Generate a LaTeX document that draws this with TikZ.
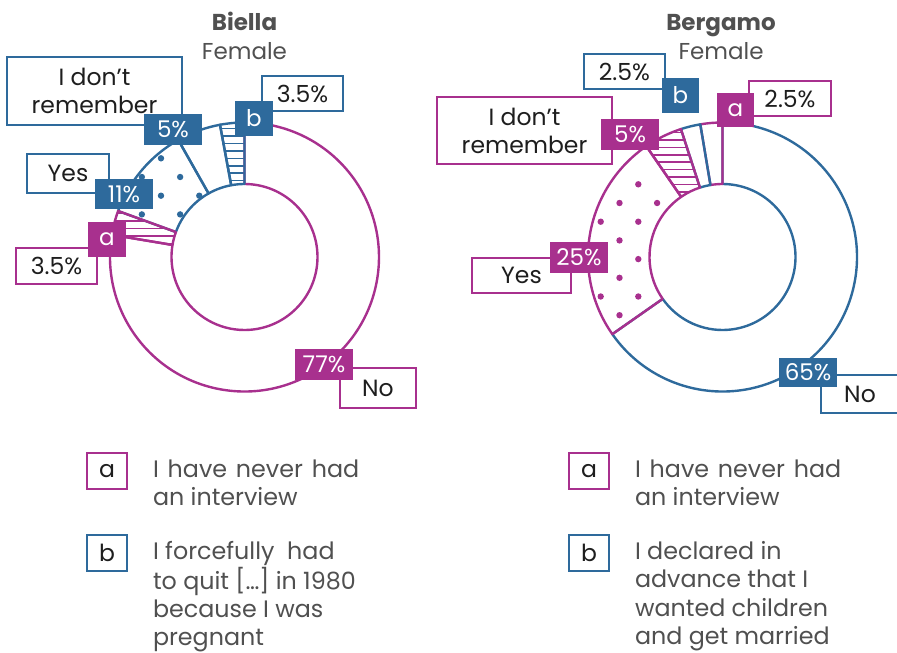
\documentclass[tikz,border=0pt]{standalone}
\usepackage{fontspec}
\setmainfont{Poppins}
\definecolor{mag}{HTML}{A8308E}
\definecolor{blu}{HTML}{2E6A9C}
\definecolor{ink}{HTML}{1E1E1E}
\definecolor{gry}{HTML}{505050}
\def\Ro{134.5}
\def\Ri{73}
\newcommand{\lblfont}{\fontsize{23.5}{28}\selectfont}
\newcommand{\pctfont}{\fontsize{23}{26}\selectfont}
\newcommand{\lgdfont}{\fontsize{23.8}{28.3}\selectfont}
\newcommand{\wsp}{\hspace{2.5pt}\ }
\tikzset{
  ring/.style n args={4}{insert path={(#1,#2) ++({-(#3)}:\Ro)
      arc[start angle={-(#3)}, end angle={-(#4)}, radius=\Ro]
      -- ++({-(#4)}:{\Ri-\Ro})
      arc[start angle={-(#4)}, end angle={-(#3)}, radius=\Ri] -- cycle}},
  slc/.style={line width=2.4pt, line join=round, draw=#1},
  hatchline/.style={line width=1.5pt, draw=#1},
  outbox/.style={draw=#1, fill=white, line width=2.2pt, text=ink,
      font=\lblfont, align=center},
  tagbox/.style={fill=#1, text=white, font=\pctfont},
  keybox/.style={draw=#1, fill=white, line width=2.2pt, text=ink,
      font=\lblfont, minimum width=40pt, minimum height=36pt},
  keytext/.style={text=gry, font=\lgdfont, align=left, anchor=north west},
  ttl/.style={text=gry, anchor=base},
}
\begin{document}
\begin{tikzpicture}[x=1pt,y=-1pt,
  every node/.style={inner sep=0pt, outer sep=0pt}]
\useasboundingbox (0,0) rectangle (897,653);

% ---------------- Biella ----------------
\node[ttl, font=\bfseries\fontsize{23}{28}\selectfont] (bi-title) at (244.5,30) {Biella};
\node[ttl, font=\fontsize{23}{28}\selectfont] (bi-sub) at (244.5,59.3) {Female};

% patterns
\begin{scope}
  \clip[ring={244.5}{257}{90}{100.5}];
  \foreach \k in {0,...,12} \draw[hatchline=blu] (200,{128.5+7.45*\k}) -- (260,{128.5+7.45*\k});
\end{scope}
\begin{scope}
  \clip[ring={244.5}{257}{119.5}{160}];
  \foreach \k in {0,...,6} \foreach \j in {-2,...,2}
    \fill[blu] ({161+38.3*\j-19.15*mod(\k,2)},{158.3+18.7*\k}) circle[radius=3.2];
\end{scope}
\begin{scope}
  \clip[ring={244.5}{257}{160}{170.5}];
  \foreach \k in {0,...,8} \draw[hatchline=mag] (100,{206+7.45*\k}) -- (190,{206+7.45*\k});
\end{scope}

% slices
\draw[slc=mag, ring={244.5}{257}{170.5}{450}];
\draw[slc=blu, ring={244.5}{257}{90}{100.5}];
\draw[slc=blu, ring={244.5}{257}{100.5}{119.5}];
\draw[slc=blu, ring={244.5}{257}{119.5}{160}];
\draw[slc=mag, ring={244.5}{257}{160}{170.5}];

% labels
\node[outbox=blu, minimum width=175pt, minimum height=68pt] (bi-idr) at (94.5,91) {I don’t\\remember};
\node[outbox=blu, minimum width=81pt, minimum height=35pt] (bi-bval) at (302.5,93.5) {3.5\%};
\node[outbox=blu, minimum width=82pt, minimum height=39pt] (bi-yes) at (68,173.5) {Yes};
\node[outbox=mag, minimum width=81pt, minimum height=36pt] (bi-aval) at (56.5,266) {3.5\%};
\node[outbox=mag, minimum width=76pt, minimum height=40pt] (bi-no) at (378,388) {No};
\node[tagbox=blu, minimum width=58pt, minimum height=31pt] (bi-idrp) at (173,129.5) {5\%};
\node[tagbox=blu, minimum width=38pt, minimum height=35pt] (bi-b) at (254,118.5) {b};
\node[tagbox=blu, minimum width=58pt, minimum height=30pt] (bi-yesp) at (124,194) {11\%};
\node[tagbox=mag, minimum width=38pt, minimum height=35pt] (bi-a) at (107,239.5) {a};
\node[tagbox=mag, minimum width=58pt, minimum height=31pt] (bi-nop) at (324,364.5) {77\%};

% ---------------- Bergamo ----------------
\node[ttl, font=\bfseries\fontsize{23}{28}\selectfont] (be-title) at (721,30) {Bergamo};
\node[ttl, font=\fontsize{23}{28}\selectfont] (be-sub) at (721,59.3) {Female};

\begin{scope}
  \clip[ring={722.5}{257}{108}{124.5}];
  \foreach \k in {0,...,14} \draw[hatchline=mag] (650,{125.2+7.4*\k}) -- (720,{125.2+7.4*\k});
\end{scope}
\begin{scope}
  \clip[ring={722.5}{257}{124.5}{215}];
  \foreach \k in {0,...,10} \foreach \j in {-2,...,2}
    \fill[mag] ({638.3+37.6*\j-18.8*mod(\k,2)},{184.3+18.7*\k}) circle[radius=3.2];
\end{scope}

\draw[slc=blu, ring={722.5}{257}{215}{450}];
\draw[slc=mag, ring={722.5}{257}{90}{99.5}];
\draw[slc=blu, ring={722.5}{257}{99.5}{108}];
\draw[slc=mag, ring={722.5}{257}{108}{124.5}];
\draw[slc=mag, ring={722.5}{257}{124.5}{215}];

\node[outbox=blu, minimum width=81pt, minimum height=35pt] (be-bval) at (624.5,71.5) {2.5\%};
\node[outbox=mag, minimum width=82pt, minimum height=35pt] (be-aval) at (790,98.5) {2.5\%};
\node[outbox=mag, minimum width=175pt, minimum height=67pt] (be-idr) at (524.5,130.5) {I don’t\\remember};
\node[outbox=mag, minimum width=99pt, minimum height=35pt] (be-yes) at (521.5,275.5) {Yes};
\node[outbox=blu, minimum width=78pt, minimum height=38pt] (be-no) at (860,394) {No};
\node[tagbox=blu, minimum width=37pt, minimum height=35pt] (be-b) at (680.5,95.5) {b};
\node[tagbox=mag, minimum width=37pt, minimum height=34pt] (be-a) at (735.5,110) {a};
\node[tagbox=mag, minimum width=58pt, minimum height=31pt] (be-idrp) at (630,134.5) {5\%};
\node[tagbox=mag, minimum width=58pt, minimum height=31pt] (be-yesp) at (579,257.5) {25\%};
\node[tagbox=blu, minimum width=58pt, minimum height=29pt] (be-nop) at (808,372.5) {65\%};

% ---------------- legends ----------------
\node[keybox=mag] (lg-bi-a) at (107,471) {a};
\node[keytext] (lg-bi-at) at (153,459.5) {I\wsp have\wsp never\wsp had\\an interview};
\node[keybox=blu] (lg-bi-b) at (107,553) {b};
\node[keytext] (lg-bi-bt) at (153,541.5) {I forcefully\ \ had\\to quit […] in 1980\\because I was\\pregnant};

\node[keybox=mag] (lg-be-a) at (589,471) {a};
\node[keytext] (lg-be-at) at (635,459.5) {I\wsp have\wsp never\wsp had\\an interview};
\node[keybox=blu] (lg-be-b) at (589,553) {b};
\node[keytext] (lg-be-bt) at (635,541.5) {I declared in\\advance that I\\wanted children\\and get married};
\end{tikzpicture}
\end{document}
